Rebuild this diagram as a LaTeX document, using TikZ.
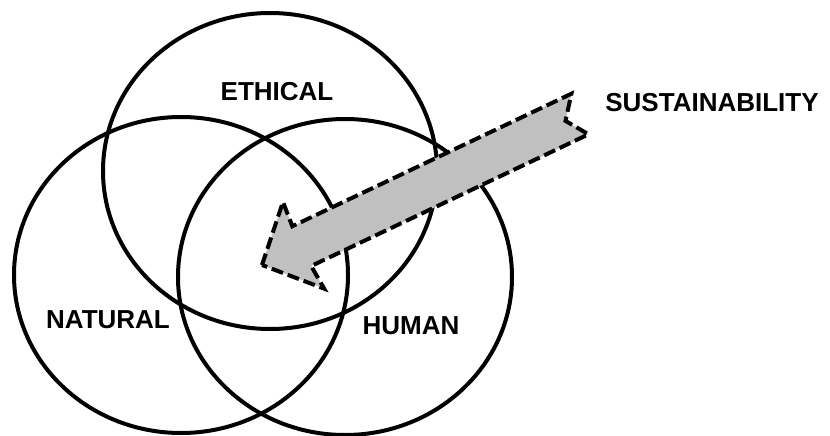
\documentclass[tikz,border=0pt]{standalone}
\usepackage{fontspec}
\setmainfont{Liberation Sans}
\usepackage{xcolor}
\usepackage{tikz}
\usetikzlibrary{shapes.geometric}

\definecolor{arrowgray}{RGB}{192,192,192}

\begin{document}
\begin{tikzpicture}[x=1pt, y=-1pt, line join=miter,
  ring/.style={draw, ellipse, line width=4pt, minimum width=334pt, minimum height=316pt, inner sep=0pt},
  lbl/.style={font=\fontsize{26}{30}\selectfont\bfseries, inner sep=0pt}]

\useasboundingbox (0,0) rectangle (830,436);

% Cerchi
\node[ring] (ethical) at (270,171) {};
\node[ring] (natural) at (181,275) {};
\node[ring] (human) at (345,277) {};

% Etichette
\node[lbl] (ethicallbl) at (277,92) {ETHICAL};
\node[lbl] (naturallbl) at (108,320) {NATURAL};
\node[lbl] (humanlbl) at (411,326) {HUMAN};
\node[lbl] (sustlbl) at (712,103) {SUSTAINABILITY};

% Freccia tratteggiata
\begin{scope}[shift={(262,265)}, rotate=25.4]
\draw[line width=4pt, dash pattern=on 12pt off 5pt, fill=arrowgray]
  (0,0) -- (46,-48) -- (44,-22) -- (353,-22) -- (336,0) -- (351,22)
  -- (44,22) -- (46,48) -- cycle;
\end{scope}

\end{tikzpicture}
\end{document}
